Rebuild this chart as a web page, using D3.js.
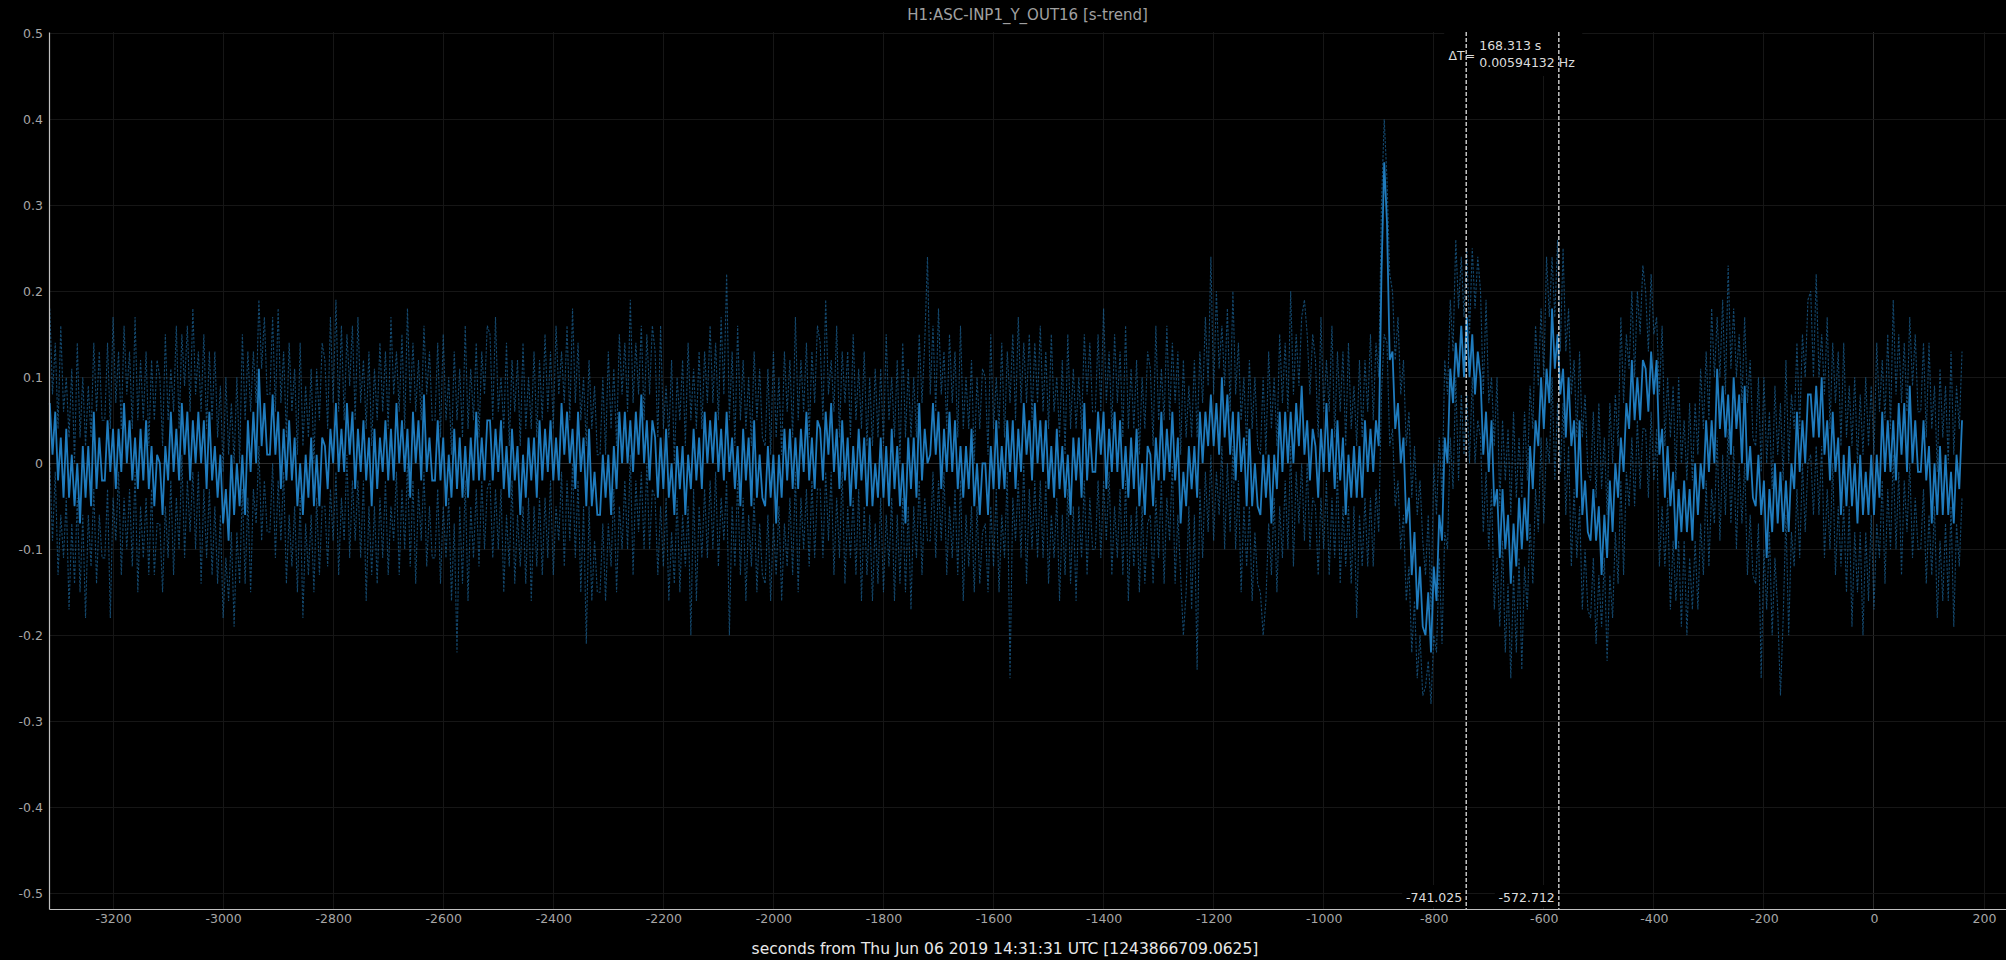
<!DOCTYPE html>
<html><head><meta charset="utf-8">
<script src="https://cdn.jsdelivr.net/npm/d3@7"></script>
<style>html,body{margin:0;padding:0;background:#000;}svg{display:block;}</style>
</head><body>
<svg id="chart" width="2006" height="960"></svg>
<script>
const chartTitle = "H1:ASC-INP1_Y_OUT16 [s-trend]";
const xAxisLabel = "seconds from Thu Jun 06 2019 14:31:31 UTC [1243866709.0625]";
const tStart = -3315, tStep = 5;

const meanValues = [
.07,.01,.06,-.02,.03,-.04,.04,-.04,.01,-.05,0,-.07,.02,-.04,.02,-.05,.06,-.03,.03,-.02,
-.02,.05,-.01,.04,-.03,.04,-.01,.07,0,.05,-.02,.03,-.03,.04,-.02,.05,-.03,.02,-.05,.01,
0,-.06,.02,-.02,.06,-.01,.04,-.02,.07,.01,.06,-.02,.05,0,.06,0,.05,-.03,.06,-.02,
.02,-.04,.01,-.07,-.03,-.09,.01,-.06,0,-.05,.01,-.06,.05,-.01,.06,0,.11,.02,.07,.01,
.01,.08,.01,.06,-.03,.04,-.02,.05,-.02,.03,-.05,0,-.06,.01,-.04,.03,-.05,.01,-.05,.03,
.02,-.03,.04,0,.07,-.01,.04,-.01,.07,.01,.06,-.03,.04,-.01,.05,-.02,.03,-.05,.04,-.03,
.03,-.01,.05,-.02,.04,-.02,.07,0,.05,-.01,.04,-.04,.06,0,.05,-.02,.08,-.01,.03,-.02,
-.02,.05,-.02,.03,-.05,.01,-.04,.04,-.03,.03,-.04,.02,-.04,.03,-.02,.06,-.02,.03,-.02,.05,
.05,-.02,.04,-.01,.05,-.03,.02,-.04,.04,-.02,.02,-.06,.01,-.04,.03,-.02,.03,-.04,.05,-.02,
.04,-.01,.05,-.02,.03,-.02,.07,.01,.06,0,.04,-.03,.06,-.01,.03,-.05,.04,-.05,-.01,-.06,
-.06,.01,-.04,.01,-.06,.02,-.03,.06,0,.06,0,.05,-.01,.06,.01,.08,0,.05,-.02,.05,
.03,-.04,.03,-.03,.04,-.04,0,-.06,.02,-.03,.02,-.06,.01,-.03,.04,-.02,.03,-.03,.06,0,
.05,0,.06,-.01,.04,-.02,.06,-.01,.03,-.03,.02,-.05,.04,-.02,.03,-.05,.05,-.04,.01,-.04,
-.05,.02,-.04,.01,-.07,.01,-.04,.04,-.02,.04,-.03,.03,-.03,.04,-.01,.06,-.02,.03,-.03,.05,
.04,-.02,.06,.01,.07,-.01,.04,-.03,.05,-.02,.03,-.05,.02,-.03,.04,-.02,.03,-.05,.03,-.05,
0,-.04,.03,-.04,.02,-.05,.04,-.03,.02,-.05,0,-.07,.03,-.03,.03,-.04,.07,-.02,.04,0,
.01,.07,.01,.06,-.03,.04,-.01,.06,-.01,.05,-.03,.02,-.04,.02,-.03,.04,-.05,0,-.06,0,
0,-.06,.02,-.03,.05,-.03,.02,-.03,.05,-.01,.05,-.03,.04,-.01,.07,.01,.05,-.02,.07,0,
.05,-.01,.05,-.03,.02,-.04,.04,-.03,.02,-.04,.01,-.06,.03,-.02,.03,-.04,.07,-.02,.04,-.01,
-.01,.06,.01,.06,-.03,.04,-.01,.06,-.01,.05,-.03,.02,-.04,.03,-.03,.04,-.05,0,-.06,.02,
.01,-.05,.03,-.02,.06,-.02,.04,-.01,.06,-.02,.03,-.07,-.01,-.05,.02,-.03,.02,-.04,.06,0,
.06,.02,.08,.02,.07,.01,.10,.03,.08,.01,.06,-.02,.06,-.01,.03,-.05,.04,-.05,0,-.05,
-.06,.01,-.04,.01,-.07,.01,-.03,.06,-.01,.06,0,.06,0,.07,.02,.09,.01,.05,-.02,.04,
.02,-.04,.04,-.01,.07,-.01,.04,-.03,.05,-.02,.03,-.06,.01,-.04,.02,-.04,.02,-.04,.05,-.01,
.04,-.01,.05,.02,.22,.35,.28,.12,.13,.04,.07,0,.03,-.07,-.04,-.13,-.08,-.17,-.12,-.19,
-.20,-.15,-.22,-.12,-.16,-.06,-.09,.03,0,.11,.07,.14,.10,.16,.10,.17,.10,.15,.08,.13,
.10,.01,.06,-.01,.05,-.05,-.03,-.11,-.03,-.10,-.06,-.14,-.07,-.12,-.04,-.10,-.04,-.09,.02,-.03,
.05,.02,.10,.04,.11,.07,.18,.11,.15,.08,.11,.03,.10,.02,.05,-.04,.05,-.06,-.02,-.08,
-.09,-.03,-.09,-.05,-.13,-.06,-.11,-.02,-.08,0,-.04,.03,-.01,.07,.04,.12,.05,.10,.05,.12,
.11,.06,.13,.08,.12,.01,.04,-.04,.02,-.05,-.01,-.10,-.03,-.08,-.02,-.08,-.03,-.09,0,-.06,
0,-.03,.05,-.01,.05,0,.11,.04,.09,.03,.08,.01,.10,.04,.08,0,.09,-.02,.02,-.04,
-.05,.01,-.06,-.02,-.11,-.03,-.08,0,-.07,-.01,-.08,-.02,-.08,0,-.03,.06,-.01,.05,0,.08,
.08,.03,.09,.03,.10,.01,.05,-.02,.06,-.01,.03,-.06,.01,-.05,.02,-.05,0,-.07,.01,-.06,
-.01,-.06,.01,-.06,.01,-.04,.06,-.01,.05,-.01,.05,-.02,.07,.01,.07,-.01,.09,0,.05,-.01,
-.01,.05,-.02,.02,-.07,0,-.06,.02,-.06,.01,-.06,-.01,-.07,.01,-.03,.05
];

const maxValues = [
.18,.08,.14,.04,.16,.06,.10,.03,.11,0,.14,.03,.10,.02,.09,.03,.14,.06,.13,.05,
.05,.14,.04,.17,.07,.13,.04,.16,.08,.13,.04,.17,.05,.12,.05,.13,.02,.12,.05,.12,
.10,.02,.15,.05,.11,.06,.16,.04,.15,.09,.16,.06,.18,.08,.13,.06,.15,.04,.13,.05,
.13,.03,.09,-.01,.10,.01,.07,0,.10,0,.15,.05,.13,.06,.13,.07,.19,.11,.17,.08,
.08,.17,.06,.18,.07,.13,.03,.14,.06,.11,.01,.14,.02,.09,.03,.11,0,.11,.05,.14,
.12,.04,.17,.07,.19,.06,.16,.05,.15,.09,.16,.05,.17,.07,.12,.04,.13,.02,.11,.05,
.14,.06,.13,.04,.17,.08,.13,.06,.15,.04,.18,.07,.14,.06,.12,.05,.16,.08,.13,.05,
.05,.14,.03,.15,.05,.10,.01,.13,.05,.11,.03,.16,.04,.11,.05,.14,.03,.13,.08,.16,
.15,.05,.17,.06,.10,.04,.14,.02,.12,.06,.12,.02,.14,.04,.10,.04,.13,.03,.12,.05,
.15,.06,.13,.04,.16,.08,.13,.07,.16,.05,.18,.07,.14,.05,.10,.02,.12,.04,.09,.01,
.01,.10,.01,.13,.04,.11,.02,.15,.08,.14,.06,.19,.07,.14,.08,.16,.05,.15,.08,.16,
.13,.03,.16,.04,.09,.03,.12,0,.10,.05,.12,.02,.14,.05,.11,.04,.13,.04,.13,.07,
.16,.07,.14,.05,.17,.08,.22,.05,.13,.02,.16,.05,.12,.04,.10,.02,.13,.05,.11,.03,
.02,.11,.01,.13,.03,.10,.01,.13,.06,.12,.03,.17,.05,.12,.06,.14,.03,.13,.07,.16,
.14,.05,.19,.08,.12,.06,.16,.03,.13,.07,.13,.03,.15,.05,.11,.04,.13,.02,.10,.02,
.11,.03,.11,.02,.15,.05,.10,.03,.12,0,.14,.03,.11,.03,.10,.03,.15,.07,.14,.24,
.08,.16,.06,.18,.08,.13,.04,.15,.07,.13,.03,.16,.04,.10,.04,.12,0,.10,.04,.11,
.10,.01,.15,.04,.10,.04,.14,.03,.13,.07,.15,.05,.17,.07,.14,.07,.15,.05,.14,.07,
.16,.06,.13,.04,.15,.06,.10,.03,.12,.01,.15,.04,.11,.04,.10,.04,.15,.08,.14,.06,
.06,.15,.06,.18,.07,.13,.04,.15,.07,.13,.03,.16,.04,.11,.04,.12,.01,.10,.04,.13,
.11,.02,.16,.05,.11,.05,.16,.05,.14,.07,.13,.01,.12,.03,.09,.03,.12,.03,.13,.07,
.17,.09,.24,.08,.20,.11,.16,.09,.18,.06,.20,.08,.14,.05,.10,.02,.12,.04,.10,.02,
.01,.10,.01,.13,.04,.10,.02,.15,.07,.14,.06,.20,.08,.15,.09,.17,.19,.15,.08,.15,
.12,.03,.17,.06,.12,.06,.16,.03,.13,.06,.13,.02,.14,.04,.09,.02,.12,.03,.12,.06,
.15,.05,.14,.10,.30,.40,.33,.22,.20,.12,.17,.08,.12,.02,.06,-.04,.02,-.06,-.02,-.09,
-.13,-.06,-.17,0,-.06,.03,-.04,.12,.08,.19,.13,.26,.18,.24,.17,.25,.15,.25,.18,.24,
.20,.08,.19,.07,.10,.02,.10,-.05,.05,-.02,.04,-.06,.06,-.04,.03,-.04,.06,-.02,.09,.04,
.16,.09,.18,.10,.24,.17,.24,.17,.26,.13,.25,.13,.18,.08,.12,.03,.13,.03,.08,-.01,
-.02,.06,-.04,.07,-.03,.03,-.06,.07,0,.08,.02,.17,.07,.15,.11,.20,.10,.20,.15,.23,
.20,.13,.22,.15,.17,.08,.16,.02,.10,.03,.09,-.02,.10,0,.05,-.02,.07,-.02,.07,.01,
.11,.04,.13,.05,.18,.10,.17,.10,.19,.08,.23,.11,.18,.10,.15,.07,.17,.07,.12,.03,
.02,.10,-.01,.10,0,.06,-.03,.09,.01,.07,-.02,.12,0,.08,.04,.14,.04,.15,.10,.19,
.20,.10,.22,.10,.15,.08,.17,.04,.14,.07,.13,.02,.14,.03,.09,.02,.10,0,.08,.01,
.10,.02,.09,.01,.14,.06,.12,.05,.15,.04,.19,.08,.15,.07,.14,.06,.17,.09,.15,.06,
.06,.14,.03,.14,.04,.09,-.01,.11,.03,.09,0,.13,.01,.09,.04,.13
];

const minValues = [
0,-.09,-.01,-.13,-.06,-.11,-.04,-.17,-.07,-.14,-.04,-.15,-.06,-.18,-.06,-.12,-.03,-.14,-.06,-.11,
-.11,-.03,-.18,-.04,-.09,-.01,-.13,-.04,-.10,-.03,-.12,-.01,-.15,-.05,-.11,-.04,-.13,-.03,-.13,-.07,
-.07,-.15,-.05,-.11,-.02,-.13,-.04,-.10,.01,-.11,-.02,-.08,-.01,-.10,-.01,-.14,-.03,-.11,-.03,-.13,
-.05,-.14,-.06,-.18,-.11,-.16,-.08,-.19,-.08,-.14,-.03,-.14,-.04,-.15,-.03,-.07,.02,-.09,-.02,-.08,
-.08,0,-.11,-.02,-.09,-.01,-.14,-.06,-.12,-.05,-.15,-.04,-.18,-.07,-.13,-.06,-.15,-.04,-.13,-.05,
-.05,-.12,-.03,-.09,-.01,-.13,-.04,-.09,.01,-.11,-.02,-.09,-.02,-.11,-.02,-.16,-.05,-.13,-.05,-.14,
-.04,-.11,-.02,-.13,-.05,-.09,-.01,-.13,-.03,-.10,0,-.12,-.02,-.14,-.03,-.09,-.01,-.12,-.05,-.11,
-.11,-.03,-.14,-.05,-.11,-.04,-.16,-.07,-.22,-.05,-.14,-.02,-.16,-.05,-.11,-.03,-.12,-.02,-.10,-.03,
-.02,-.11,-.03,-.10,-.03,-.15,-.06,-.12,-.02,-.14,-.06,-.12,-.05,-.14,-.04,-.16,-.05,-.12,-.04,-.13,
-.04,-.11,-.02,-.13,-.05,-.09,-.01,-.12,-.02,-.09,0,-.11,-.02,-.15,-.05,-.21,-.05,-.16,-.09,-.15,
-.15,-.07,-.16,-.07,-.12,-.03,-.15,-.05,-.10,-.02,-.10,.01,-.13,-.02,-.08,-.01,-.10,0,-.10,-.03,
-.04,-.13,-.05,-.12,-.04,-.16,-.08,-.14,-.04,-.15,-.06,-.12,-.05,-.20,-.03,-.16,-.05,-.11,-.03,-.11,
-.02,-.10,-.01,-.12,-.04,-.09,-.02,-.20,-.05,-.12,-.02,-.13,-.04,-.16,-.06,-.12,-.04,-.15,-.07,-.13,
-.14,-.06,-.16,-.07,-.13,-.05,-.16,-.07,-.12,-.04,-.13,-.01,-.15,-.04,-.10,-.03,-.12,-.02,-.11,-.03,
-.03,-.11,-.01,-.09,-.01,-.13,-.04,-.11,-.01,-.14,-.05,-.11,-.04,-.13,-.03,-.16,-.05,-.13,-.06,-.16,
-.07,-.14,-.04,-.15,-.06,-.12,-.04,-.16,-.06,-.14,-.04,-.15,-.05,-.17,-.05,-.11,-.02,-.13,-.04,-.09,
-.09,-.01,-.11,-.02,-.09,-.01,-.13,-.05,-.11,-.03,-.13,-.02,-.16,-.06,-.12,-.05,-.15,-.05,-.14,-.08,
-.07,-.15,-.05,-.12,-.03,-.15,-.06,-.11,-.01,-.25,-.04,-.09,-.02,-.11,0,-.14,-.03,-.10,-.02,-.11,
-.02,-.11,-.02,-.14,-.06,-.11,-.04,-.16,-.06,-.13,-.03,-.14,-.05,-.16,-.05,-.11,-.02,-.13,-.04,-.10,
-.10,-.02,-.11,-.02,-.09,-.01,-.13,-.05,-.11,-.03,-.13,-.02,-.16,-.06,-.12,-.05,-.15,-.05,-.14,-.07,
-.06,-.14,-.04,-.11,-.02,-.14,-.04,-.09,0,-.14,-.06,-.13,-.20,-.15,-.05,-.17,-.06,-.24,-.03,-.11,
-.01,-.08,.01,-.09,-.01,-.06,.02,-.10,0,-.08,.02,-.10,-.02,-.15,-.05,-.12,-.05,-.16,-.08,-.14,
-.15,-.20,-.16,-.07,-.13,-.04,-.15,-.05,-.11,-.02,-.10,.02,-.12,-.01,-.07,0,-.09,0,-.10,-.04,
-.05,-.13,-.04,-.10,-.02,-.13,-.04,-.11,-.01,-.14,-.05,-.12,-.05,-.14,-.05,-.18,-.06,-.12,-.04,-.12,
-.04,-.12,-.03,-.08,.08,.15,.14,.02,.04,-.05,-.02,-.10,-.06,-.16,-.12,-.22,-.16,-.25,-.20,-.27,
-.26,-.23,-.28,-.20,-.22,-.11,-.21,-.08,-.10,.03,-.03,.10,-.02,.08,.01,.08,0,.10,0,.05,
.03,-.08,-.01,-.10,-.03,-.17,-.11,-.19,-.09,-.22,-.14,-.25,-.13,-.22,-.11,-.24,-.12,-.17,-.07,-.14,
-.03,-.08,.03,-.07,.03,0,.10,-.02,.07,-.01,.07,-.06,.02,-.12,-.03,-.11,-.05,-.17,-.10,-.17,
-.18,-.11,-.21,-.13,-.19,-.11,-.23,-.13,-.18,-.08,-.14,-.02,-.13,-.01,-.05,.03,-.05,.05,-.03,.04,
.04,-.04,.06,-.02,.04,-.12,-.05,-.12,-.04,-.17,-.09,-.16,-.09,-.19,-.09,-.20,-.11,-.17,-.09,-.17,
-.07,-.13,-.02,-.12,-.03,-.07,.03,-.09,.01,-.06,.04,-.07,.02,-.10,0,-.07,0,-.13,-.06,-.13,
-.14,-.07,-.25,-.10,-.17,-.08,-.20,-.11,-.17,-.27,-.18,-.06,-.20,-.08,-.12,-.03,-.11,0,-.08,0,
.01,-.06,.02,-.06,.02,-.11,-.03,-.10,0,-.13,-.05,-.12,-.05,-.15,-.05,-.19,-.08,-.15,-.08,-.20,
-.08,-.16,-.06,-.17,-.07,-.11,-.02,-.14,-.03,-.10,.01,-.10,-.01,-.13,-.02,-.08,0,-.11,-.04,-.10,
-.10,-.03,-.14,-.06,-.13,-.05,-.18,-.09,-.16,-.07,-.16,-.05,-.19,-.07,-.12,-.04
];

const xTickValues = [-3200,-3000,-2800,-2600,-2400,-2200,-2000,-1800,-1600,-1400,-1200,-1000,-800,-600,-400,-200,0,200];
const yTickValues = [-0.5,-0.4,-0.3,-0.2,-0.1,0,0.1,0.2,0.3,0.4,0.5];
const cursorTimes = [-741.025, -572.712];
const cursorLabels = ["-741.025", "-572.712"];
const deltaLines = ["168.313 s", "0.00594132 Hz"];

const W = 2006, H = 960;
const plotL = 49, plotR = 2006, plotT = 32, plotB = 909;
const FONT = "'DejaVu Sans', Verdana, sans-serif";

const x = d3.scaleLinear().domain([-3316.4, 239.9]).range([plotL, plotR]);
const y = d3.scaleLinear().domain([-0.5183, 0.5015]).range([plotB, plotT]);

const svg = d3.select("#chart");
svg.append("rect").attr("width", W).attr("height", H).attr("fill", "#000");

// grid
const grid = svg.append("g");
grid.selectAll("line.gx").data(xTickValues).join("line")
  .attr("x1", d => x(d)).attr("x2", d => x(d)).attr("y1", plotT).attr("y2", plotB)
  .attr("stroke", d => d === 0 ? "#2c2c2c" : "#161616").attr("stroke-width", 1)
  .attr("shape-rendering", "crispEdges");
grid.selectAll("line.gy").data(yTickValues).join("line")
  .attr("x1", plotL).attr("x2", plotR).attr("y1", d => y(d)).attr("y2", d => y(d))
  .attr("stroke", d => d === 0 ? "#2c2c2c" : "#161616").attr("stroke-width", 1)
  .attr("shape-rendering", "crispEdges");

// traces
const pts = arr => arr.map((v, i) => [tStart + i * tStep, v]);
const line = d3.line().x(d => x(d[0])).y(d => y(d[1]));
const traces = svg.append("g");
[maxValues, minValues].forEach(arr => {
  traces.append("path").attr("d", line(pts(arr)))
    .attr("fill", "none").attr("stroke", "#1f77b4").attr("stroke-opacity", 0.6)
    .attr("stroke-width", 1.1).attr("stroke-dasharray", "2.5,1.5");
});
traces.append("path").attr("d", line(pts(meanValues)))
  .attr("fill", "none").attr("stroke", "#1f7bbd").attr("stroke-width", 1.8)
  .attr("stroke-linejoin", "miter").attr("stroke-miterlimit", 2);

// axes
const fmtY = d => d === 0 ? "0" : String(+d.toFixed(1));
const yAxis = svg.append("g").attr("transform", `translate(${plotL},0)`)
  .call(d3.axisLeft(y).tickValues(yTickValues).tickFormat(fmtY).tickSize(0).tickPadding(6));
const xAxis = svg.append("g").attr("transform", `translate(0,${plotB})`)
  .call(d3.axisBottom(x).tickValues(xTickValues).tickFormat(d => String(d)).tickSize(0).tickPadding(5));
[yAxis, xAxis].forEach(a => {
  a.select(".domain").attr("stroke", "#c0c0c0").attr("stroke-width", 1.2);
  a.selectAll("text").attr("fill", "#a6a6a6").style("font-family", FONT).style("font-size", "12.5px");
});

// cursor label backgrounds and cursors
const cur = svg.append("g");
cursorTimes.forEach((t, i) => {
  const cx = x(t);
  cur.append("rect").attr("x", cx - 64).attr("y", 885).attr("width", 63).attr("height", 22).attr("fill", "#000");
  cur.append("text").attr("x", cx - 4).attr("y", 902).attr("text-anchor", "end")
    .attr("fill", "#dcdcdc").style("font-family", FONT).style("font-size", "12.5px").text(cursorLabels[i]);
});
// delta box
const bx0 = x(cursorTimes[0]) - 22;
cur.append("rect").attr("x", bx0).attr("y", 28).attr("width", 138).attr("height", 48).attr("fill", "#000");
cursorTimes.forEach(t => {
  cur.append("line").attr("x1", x(t)).attr("x2", x(t)).attr("y1", plotT).attr("y2", plotB)
    .attr("stroke", "#e0e0e0").attr("stroke-width", 1.3).attr("stroke-dasharray", "4,2");
});
cur.append("text").attr("x", x(cursorTimes[0]) + 9).attr("y", 59.5).attr("text-anchor", "end")
  .attr("fill", "#dcdcdc").style("font-family", FONT).style("font-size", "12.5px").text("\u0394T=");
deltaLines.forEach((s, i) => {
  cur.append("text").attr("x", x(cursorTimes[0]) + 13).attr("y", 50 + i * 17)
    .attr("fill", "#dcdcdc").style("font-family", FONT).style("font-size", "12.5px").text(s);
});

// titles
svg.append("text").attr("x", (plotL + plotR) / 2).attr("y", 20).attr("text-anchor", "middle")
  .attr("fill", "#a0a0a0").style("font-family", FONT).style("font-size", "15px").text(chartTitle);
svg.append("text").attr("x", 1005).attr("y", 954).attr("text-anchor", "middle")
  .attr("fill", "#e8e8e8").style("font-family", FONT).style("font-size", "15.5px").text(xAxisLabel);
</script>
</body></html>
